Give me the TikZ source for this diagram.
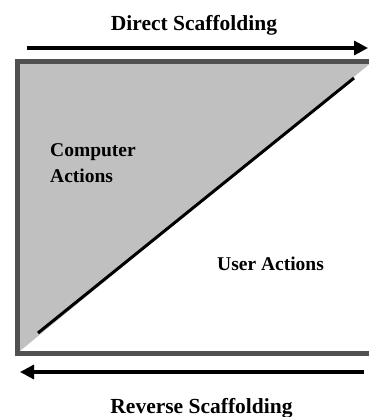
\documentclass[tikz,border=0pt]{standalone}
\usepackage{fontspec}
\setmainfont{Liberation Serif}
\usetikzlibrary{arrows.meta}

\begin{document}
\begin{tikzpicture}[x=1pt, y=-1pt,
    scaf/.style = {-{Triangle[length=14pt,width=14pt]}, line width=3.2pt},
    title/.style = {font=\bfseries\fontsize{21.5}{24}\selectfont},
    side/.style = {font=\bfseries\fontsize{19.5}{26}\selectfont, align=left, inner sep=0pt}]
    \useasboundingbox (0,0) rectangle (368,417);

    % corners of the frame
    \coordinate (TL) at (17.5,62);
    \coordinate (BL) at (17.5,353);
    \coordinate (TR) at (372,62);
    \coordinate (BR) at (372,353);

    % computer part
    \fill[fill={rgb,255:red,192;green,192;blue,192}] (TL) -- (TR) -- (BL) -- cycle;
    \draw[line width=5pt, color={rgb,255:red,80;green,80;blue,80}] (TR) -- (TL) -- (BL) -- (BR);

    \coordinate (diagA) at (38,333);
    \coordinate (diagB) at (354,78);
    \draw[line width=3pt] (diagA) -- (diagB);

    % scaffolding arrows
    \coordinate (dirS) at (27,48);
    \coordinate (dirE) at (368,48);
    \coordinate (revS) at (364,372);
    \coordinate (revE) at (20,372);
    \draw[scaf] (dirS) -- (dirE);
    \draw[scaf] (revS) -- (revE);

    \node[title, anchor=base] (direct) at (194,31) {Direct Scaffolding};
    \node[title, anchor=base] (reverse) at (201.5,413) {Reverse Scaffolding};

    \node[side, anchor=base west] (comp) at (50,182) {Computer\\Actions};
    \node[side, anchor=base west] (user) at (217,270) {User Actions};
\end{tikzpicture}
\end{document}
